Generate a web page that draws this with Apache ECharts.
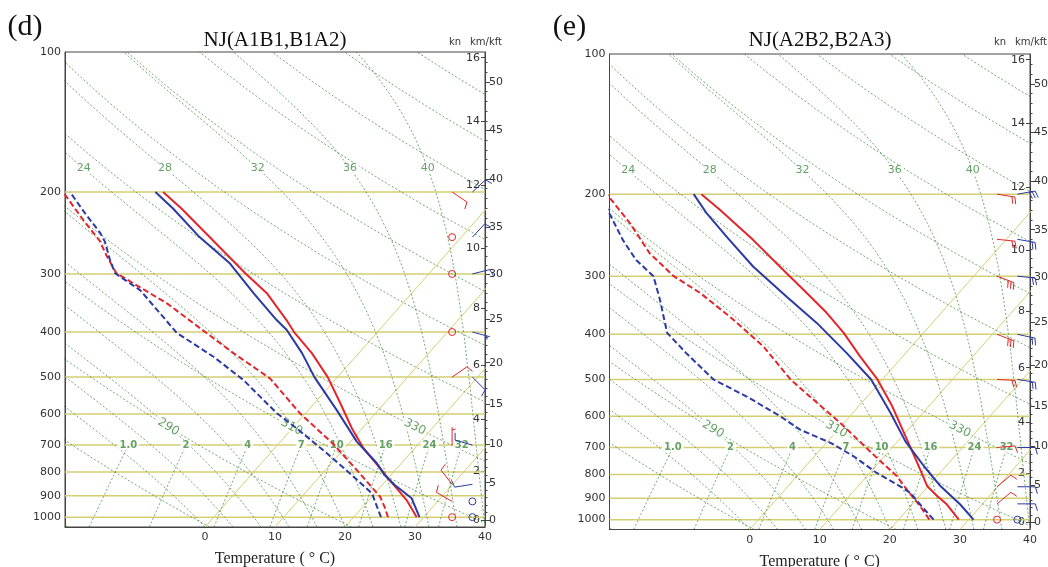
<!DOCTYPE html>
<html>
<head>
<meta charset="utf-8">
<script src="https://cdn.jsdelivr.net/npm/echarts@6/dist/echarts.min.js"></script>
<style>
html, body { margin: 0; padding: 0; background: #fff; }
#main { width: 1048px; height: 567px; }
</style>
</head>
<body>
<div id="main"></div>
<script>
// ---- data ----
const panelNames = ['(d)', '(e)'];
const panelTitles = ['NJ(A1B1,B1A2)', 'NJ(A2B2,B2A3)'];
const pressureTicks = [100, 200, 300, 400, 500, 600, 700, 800, 900, 1000];
const tempTicks = [0, 10, 20, 30, 40];
const kmTicks = [0, 2, 4, 6, 8, 10, 12, 14, 16];
const kftTicks = [0, 5, 10, 15, 20, 25, 30, 35, 40, 45, 50];
const dryAdiabats = [250, 270, 290, 310, 330, 350, 370, 390, 410, 430, 450, 470];
const dryLabels = [290, 310, 330];
const moistAdiabats = [0, 4, 8, 12, 16, 20, 24, 28, 32, 36, 40];
const moistLabels = [24, 28, 32, 36, 40];
const mixRatios = [1, 2, 4, 7, 10, 16, 24, 32];
const mixLabels = ['1.0', '2', '4', '7', '10', '16', '24', '32'];

// profiles: [pressure hPa, temperature C]
const dTempRed = [[1000,29.0],[919,25.4],[867,22.5],[825,20.0],[785,17.6],[711,12.7],[644,8.5],[569,3.7],[500,-1.4],[444,-6.7],[400,-11.9],[377,-14.5],[330,-20.7],[300,-26.1],[254,-35.1],[217,-43.6],[200,-48.3]];
const dTempBlue = [[1000,29.4],[911,25.9],[853,21.8],[812,19.1],[766,16.5],[688,10.9],[588,4.0],[500,-3.3],[444,-8.1],[396,-13.2],[377,-15.9],[330,-22.6],[285,-29.7],[250,-37.4],[217,-44.8],[200,-49.4]];
const dDewRed = [[1000,24.9],[950,23.1],[904,21.2],[792,14.5],[697,7.9],[598,-0.8],[503,-9.5],[444,-17.9],[347,-33.7],[299,-44.7],[275,-48.2],[254,-51.3],[233,-55.5],[200,-62.6]];
const dDewBlue = [[1000,23.9],[889,19.6],[805,13.9],[729,8.1],[644,0.6],[598,-4.1],[507,-13.1],[452,-20.3],[402,-28.5],[325,-39.2],[299,-44.9],[280,-47.3],[256,-50.3],[245,-52.1],[222,-56.8],[200,-61.6]];

const eTempRed = [[1000,28.6],[928,25.0],[883,22.1],[848,19.9],[755,15.5],[673,11.1],[571,4.8],[500,-0.7],[446,-6.1],[397,-11.4],[360,-16.3],[326,-21.7],[296,-27.0],[251,-36.0],[216,-44.6],[200,-49.2]];
const eTempBlue = [[1000,30.7],[928,26.9],[848,21.8],[768,16.9],[679,11.1],[590,5.4],[500,-1.6],[439,-8.4],[378,-16.5],[332,-24.1],[286,-32.7],[248,-40.0],[220,-46.0],[200,-50.3]];
const eDewRed = [[1000,24.4],[936,21.4],[862,17.4],[807,14.3],[725,8.2],[620,-0.5],[544,-8.2],[500,-13.1],[425,-21.1],[372,-28.8],[326,-36.9],[300,-42.8],[268,-49.1],[231,-55.7],[200,-62.7]];
const eDewBlue = [[1000,25.0],[936,21.6],[876,18.3],[848,16.0],[794,11.0],[731,5.6],[684,0.6],[641,-5.4],[600,-9.9],[544,-17.2],[500,-24.1],[439,-31.3],[397,-36.6],[337,-41.8],[300,-45.7],[277,-50.2],[251,-54.6],[220,-59.9],[200,-63.6]];

// winds (knots, direction from) at these levels
const windLevels = [200, 250, 300, 400, 500, 700, 850, 925, 1000];
const dRedSpd = [10, 0, 0, 0, 10, 5, 10, 10, 0];
const dRedDir = [124, 0, 0, 0, 55, 0, 322, 300, 0];
const dBlueSpd = [10, 10, 10, 5, 10, 10, 10, 0, 0];
const dBlueDir = [47, 43, 76, 105, 135, 286, 261, 0, 0];
const eRedSpd = [20, 20, 30, 30, 20, 10, 10, 10, 0];
const eRedDir = [99, 96, 111, 111, 93, 85, 50, 50, 0];
const eBlueSpd = [30, 20, 20, 20, 20, 10, 10, 10, 0];
const eBlueDir = [80, 100, 96, 102, 99, 90, 90, 90, 0];

// ---- helpers ----
// vertical coordinate: 0 at the 1050 hPa bottom, 1000 at the 100 hPa top (log-pressure)
const PBOT = 1050;
const LOGMAX = Math.log10(PBOT), LOGMIN = 2;
const RED = '#e3262b', BLUE = '#2b3aa6', GREEN = 'rgba(45,125,45,0.75)', YEL = '#d5ce72';
function yOf(p) { return 1000 * (LOGMAX - Math.log10(p)) / (LOGMAX - LOGMIN); }
function pOfY(v) { return Math.pow(10, LOGMAX - v / 1000 * (LOGMAX - LOGMIN)); }
function skewX(t, p) { return t + 0.06 * yOf(p); }
function pt(p, t) { return [skewX(t, p), yOf(p)]; }
function es(tc) { return 6.112 * Math.exp(17.67 * tc / (tc + 243.5)); }
function pOfZ(z) { return z <= 11000 ? 1013.25 * Math.pow(1 - 2.25577e-5 * z, 5.25588) : 226.32 * Math.exp(-(z - 11000) / 6341.6); }
function zOfP(p) {
  return p >= 226.32 ? (1 - Math.pow(p / 1013.25, 1 / 5.25588)) / 2.25577e-5 : 11000 - 6341.6 * Math.log(p / 226.32);
}
function dryLine(th) {
  const a = [];
  for (let p = PBOT; p >= 100; p -= 10) a.push(pt(p, th * Math.pow(p / 1000, 0.2857) - 273.15));
  return a;
}
function mixLine(w) {
  const a = [];
  for (let p = PBOT; p >= 700; p -= 10) {
    const e = (w / 1000) * p / (0.622 + w / 1000), l = Math.log(e / 6.112);
    a.push(pt(p, 243.5 * l / (17.67 - l)));
  }
  return a;
}
// saturated ascent starting from the bottom of the diagram
function moistLine(t0) {
  const Rd = 287.04, cp = 1005.7, eps = 0.622;
  const f = (p, T) => {
    const tc = T - 273.15, e = es(tc), ws = eps * e / (p - e);
    const L = 2.501e6 - 2370 * tc;
    const A = 1 + L * ws / (Rd * T), B = 1 + eps * L * L * ws / (cp * Rd * T * T);
    return (A / B) * Rd * T / (cp * p);
  };
  const out = [];
  let T = t0 + 273.15;
  for (let p = PBOT; p > 100; p -= 2) {
    out.push(pt(p, T - 273.15));
    const k1 = f(p, T), k2 = f(p - 1, T - k1);
    T -= 2 * k2;
  }
  out.push(pt(100, T - 273.15));
  return out;
}
function atP(line, p) {
  const y = yOf(p);
  let best = line[0];
  line.forEach(d => { if (Math.abs(d[1] - y) < Math.abs(best[1] - y)) best = d; });
  return best;
}

function renderBarb(params, api) {
  const c = api.coord([api.value(0), api.value(1)]);
  const spd = api.value(2), dir = api.value(3) * Math.PI / 180;
  const color = api.visual('color');
  const st = { stroke: color, lineWidth: 1, fill: null };
  if (spd < 2.5) {
    return { type: 'circle', shape: { cx: c[0], cy: c[1], r: 3.5 }, style: { stroke: color, fill: 'none', lineWidth: 1 } };
  }
  const ux = Math.sin(dir), uy = -Math.cos(dir), vx = Math.cos(dir), vy = Math.sin(dir);
  const L = 18, B = 7, G = 3;
  const kids = [{ type: 'line', shape: { x1: c[0], y1: c[1], x2: c[0] + L * ux, y2: c[1] + L * uy }, style: st }];
  let rem = Math.round(spd / 5) * 5, s = L;
  while (rem >= 10) {
    const x0 = c[0] + s * ux, y0 = c[1] + s * uy;
    kids.push({ type: 'line', shape: { x1: x0, y1: y0, x2: x0 + B * vx + 2 * ux, y2: y0 + B * vy + 2 * uy }, style: st });
    s -= G; rem -= 10;
  }
  if (rem >= 5) {
    if (s === L) s -= G;
    const x0 = c[0] + s * ux, y0 = c[1] + s * uy;
    kids.push({ type: 'line', shape: { x1: x0, y1: y0, x2: x0 + B / 2 * vx + ux, y2: y0 + B / 2 * vy + uy }, style: st });
  }
  return { type: 'group', children: kids };
}

// ---- chart ----
const grids = [
  { left: 65, top: 52, width: 420, height: 475 },
  { left: 609.5, top: 54, width: 420.5, height: 475.5 }
];
const panels = [
  { t: [dTempRed, dTempBlue], d: [dDewRed, dDewBlue], w: [[dRedSpd, dRedDir], [dBlueSpd, dBlueDir]] },
  { t: [eTempRed, eTempBlue], d: [eDewRed, eDewBlue], w: [[eRedSpd, eRedDir], [eBlueSpd, eBlueDir]] }
];

const xAxes = [], yAxes = [], series = [], graphics = [];
const axisColor = '#444', textColor = '#333';
const numFont = 'DejaVu Sans';

grids.forEach((g, gi) => {
  xAxes.push({
    gridIndex: gi, type: 'value', min: -20, max: 40, interval: 10,
    axisLine: { show: true, onZero: false, lineStyle: { color: axisColor } },
    axisTick: { show: false }, splitLine: { show: false },
    axisLabel: { customValues: tempTicks, formatter: v => String(v), color: textColor, fontSize: 11, fontFamily: numFont, margin: 5 },
    name: 'Temperature ( \u00b0 C)', nameLocation: 'middle', nameGap: 24,
    nameTextStyle: { fontFamily: 'Liberation Serif', fontSize: 16, color: '#222' }
  });
  const base = { gridIndex: gi, type: 'value', min: 0, max: 1000, interval: 100, splitLine: { show: false } };
  yAxes.push(Object.assign({}, base, {
    position: 'left',
    axisLine: { show: true, onZero: false, lineStyle: { color: axisColor } }, axisTick: { show: false },
    axisLabel: { customValues: pressureTicks.map(yOf), formatter: v => String(Math.round(pOfY(v))), color: textColor, fontSize: 11, fontFamily: numFont, margin: 4 }
  }));
  const kftMajor = kftTicks.map(f => yOf(pOfZ(f * 304.8)));
  const kftMinor = [];
  for (let f = 0; f <= 52; f++) kftMinor.push(yOf(pOfZ(f * 304.8)));
  const kmVals = kmTicks.map(k => yOf(pOfZ(k * 1000)));
  yAxes.push(Object.assign({}, base, {
    position: 'right',
    axisLine: { show: true, onZero: false, lineStyle: { color: axisColor } },
    axisTick: { show: true, customValues: kftMajor, length: 5, lineStyle: { color: axisColor } },
    axisLabel: { customValues: kftMajor, formatter: v => String(Math.round(zOfP(pOfY(v)) / 304.8)), color: textColor, fontSize: 11, fontFamily: numFont, margin: 4 }
  }));
  yAxes.push(Object.assign({}, base, {
    position: 'right',
    axisLine: { show: false, onZero: false },
    axisTick: { show: true, customValues: kftMinor, length: 2.5, lineStyle: { color: axisColor } },
    axisLabel: { show: false }
  }));
  yAxes.push(Object.assign({}, base, {
    position: 'right',
    axisLine: { show: false, onZero: false },
    axisTick: { show: true, inside: true, customValues: kmVals, length: 4, lineStyle: { color: axisColor } },
    axisLabel: { inside: true, customValues: kmVals, formatter: v => String(Math.round(zOfP(pOfY(v)) / 1000)), color: textColor, fontSize: 11, fontFamily: numFont, margin: 5 }
  }));

  const yi = gi * 4;
  const line = (data, color, width, type, z) => ({
    type: 'line', xAxisIndex: gi, yAxisIndex: yi, data, showSymbol: false, silent: true,
    lineStyle: { color, width, type }, z, animation: false
  });
  // isobars and skewed isotherms at the temperature ticks
  pressureTicks.filter(p => p > 100).forEach(p => series.push(line([[-20, yOf(p)], [40, yOf(p)]], YEL, 1.5, 'solid', 1)));
  tempTicks.forEach(t => series.push(line([pt(PBOT, t), pt(100, t)], YEL, 1, 'solid', 1)));
  // dry adiabats, moist adiabats, mixing ratio lines
  const dry = dryAdiabats.map(th => dryLine(th));
  const moist = moistAdiabats.map(tw => moistLine(tw));
  const mix = mixRatios.map(w => mixLine(w));
  dry.concat(moist, mix).forEach(d => series.push(line(d, GREEN, 0.9, [2, 2], 2)));

  // labels
  const sx = g.width / 60, sy = g.height / 1000;
  const labelData = [];
  dryLabels.forEach(th => {
    const a = pt(640 / 1.05, th * Math.pow(0.64 / 1.05, 0.2857) - 273.15);
    const b = pt(640 * 1.05, th * Math.pow(0.64 * 1.05, 0.2857) - 273.15);
    const ang = -Math.atan2((a[1] - b[1]) * sy, (b[0] - a[0]) * sx) * 180 / Math.PI;
    labelData.push({ value: pt(640, th * Math.pow(0.64, 0.2857) - 273.15), label: { formatter: String(th), rotate: ang, fontSize: 12 } });
  });
  moistLabels.forEach(tw => {
    const d = atP(moist[moistAdiabats.indexOf(tw)], 177);
    labelData.push({ value: d, label: { formatter: String(tw), fontSize: 11 } });
  });
  mixRatios.forEach((w, i) => {
    const d = mix[i][mix[i].length - 1];
    labelData.push({ value: d, label: { formatter: mixLabels[i], fontSize: 10, fontWeight: 'bold' } });
  });
  series.push({
    type: 'scatter', xAxisIndex: gi, yAxisIndex: yi, data: labelData, symbolSize: 1, silent: true, animation: false, z: 3,
    itemStyle: { color: 'rgba(0,0,0,0)' },
    label: { show: true, position: 'inside', color: '#3f8a3f', fontFamily: numFont, backgroundColor: '#fff', padding: [0, 2] }
  });

  // profiles
  const pn = panels[gi];
  [RED, BLUE].forEach((c, k) => {
    series.push(line(pn.t[k].map(d => pt(d[0], d[1])), c, 2, 'solid', 4));
    series.push(line(pn.d[k].map(d => pt(d[0], d[1])), c, 2, [6, 3], 4));
  });
  // wind barbs
  [[RED, 35.3], [BLUE, 38.2]].forEach((cx, k) => {
    const w = pn.w[k];
    series.push({
      type: 'custom', xAxisIndex: gi, yAxisIndex: yi, clip: false, silent: true, animation: false, z: 5,
      itemStyle: { color: cx[0] },
      data: windLevels.map((p, i) => [cx[1], yOf(p), w[0][i], w[1][i]]),
      renderItem: renderBarb
    });
  });

  // header texts
  graphics.push({ type: 'text', x: g.left - 40, y: 27, style: { text: panelNames[gi], font: '30px "Liberation Serif"', fill: '#111', textAlign: 'center', textVerticalAlign: 'middle' } });
  graphics.push({ type: 'text', x: gi === 0 ? 275 : 820, y: 40, style: { text: panelTitles[gi], font: '21px "Liberation Serif"', fill: '#111', textAlign: 'center', textVerticalAlign: 'middle' } });
  graphics.push({ type: 'text', x: g.left + g.width - 30, y: 42, style: { text: 'kn', font: '10px "DejaVu Sans"', fill: textColor, textAlign: 'center', textVerticalAlign: 'middle' } });
  graphics.push({ type: 'text', x: g.left + g.width + 1, y: 42, style: { text: 'km/kft', font: '10px "DejaVu Sans"', fill: textColor, textAlign: 'center', textVerticalAlign: 'middle' } });
});

const chart = echarts.init(document.getElementById('main'), null, { renderer: 'canvas' });
chart.setOption({
  animation: false,
  backgroundColor: '#fff',
  grid: grids.map(g => Object.assign({ show: true, borderColor: axisColor, borderWidth: 1, backgroundColor: 'transparent', containLabel: false, outerBoundsMode: 'none' }, g)),
  xAxis: xAxes,
  yAxis: yAxes,
  series: series,
  graphic: graphics
});
</script>
</body>
</html>
